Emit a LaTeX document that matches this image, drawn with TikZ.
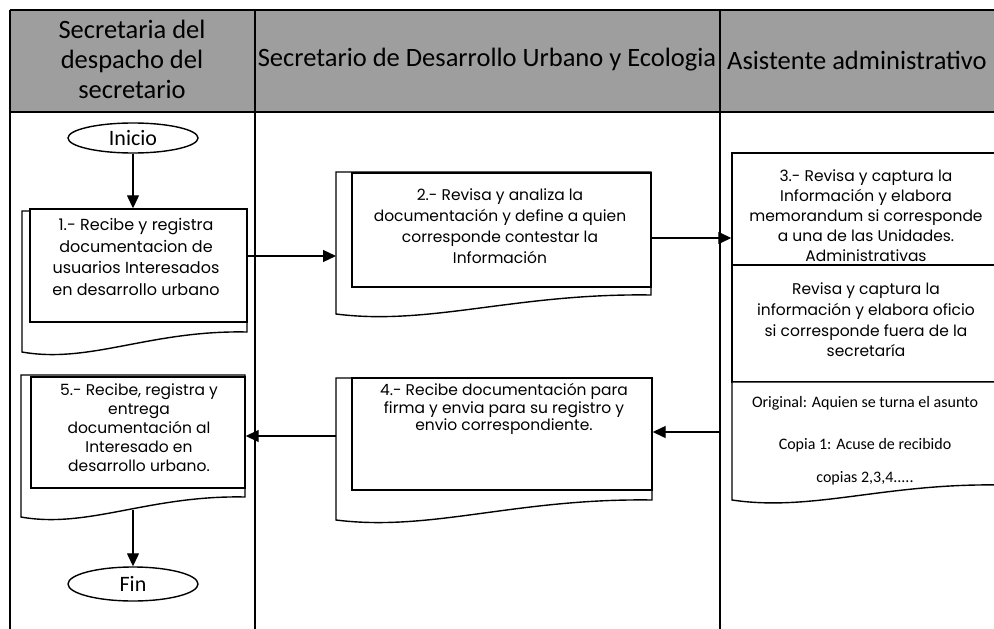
\documentclass[tikz,border=0pt]{standalone}
\usepackage{fontspec}
\setmainfont{Carlito}
\newfontfamily\boxfont{Poppins}
\usetikzlibrary{arrows.meta,shapes.geometric}
\begin{document}
\begin{tikzpicture}[x=1pt,y=-1pt,
  lane/.style={line width=2.5pt},
  doc/.style={draw, line width=1.4pt, fill=white},
  inbox/.style={draw, line width=1.4pt, fill=white, rectangle, inner sep=0pt},
  txt/.style={align=center, font=\boxfont\fontsize{15.5}{20.5}\selectfont, inner sep=0pt},
  note/.style={font=\fontsize{16}{18}\selectfont, inner sep=0pt},
  term/.style={draw, ellipse, line width=1.4pt, minimum width=130pt, inner sep=0pt, font=\fontsize{22}{24}\selectfont},
  hdr/.style={font=\fontsize{26.5}{30}\selectfont, align=center, inner sep=0pt},
  arr/.style={line width=1.3pt, -{Triangle[length=13pt,width=12pt]}}
]
\useasboundingbox (0,0) rectangle (994,629);
% header band
\fill[black!38] (10,10) rectangle (1000,112);
\draw[line width=1.5pt] (10,112) -- (1000,112);
\draw[lane] (10,10) -- (1000,10);
\draw[lane] (10,10) -- (10,629);
\draw[lane] (255,10) -- (255,629);
\draw[lane] (720,10) -- (720,629);
\node[hdr] (h1) at (132,59) {Secretaria del\\despacho del\\secretario};
\node[hdr] (h2) at (487,60) {Secretario de Desarrollo Urbano y Ecologia};
\node[hdr, anchor=west] (h3) at (727,60) {Asistente administrativo};

% terminals
\node[term, minimum height=30pt] (ini) at (133,138) {Inicio};
\node[term, minimum height=34pt] (fin) at (133,584) {Fin};

% box 1
\draw[doc] (22,211) -- (247,211) -- (247,332) .. controls (150,330) and (90,364) .. (22,352) -- cycle;
\node[inbox, minimum width=217pt, minimum height=113pt] (b1) at (138.5,265.5) {};
\node[txt, font=\boxfont\fontsize{16}{21.5}\selectfont] (t1) at (136,257) {1.- Recibe y registra\\documentacion de\\usuarios Interesados\\en desarrollo urbano};

% box 2
\draw[doc] (336,172) -- (651,172) -- (651,295) .. controls (516,293) and (430,326) .. (336,314) -- cycle;
\node[inbox, minimum width=299pt, minimum height=114pt] (b2) at (501.5,230) {};
\node[txt, font=\boxfont\fontsize{15.5}{21}\selectfont] (t2) at (500,226) {2.- Revisa y analiza la\\documentación y define a quien\\corresponde contestar la\\Información};

% box 3
\node[inbox, minimum width=268pt, minimum height=112pt] (b3a) at (866,209) {};
\node[inbox, minimum width=268pt, minimum height=117pt] (b3b) at (866,323.5) {};
\draw[doc] (732,382) -- (1000,382) -- (1000,485) .. controls (885,483) and (812,512) .. (732,500) -- cycle;
\node[txt, font=\boxfont\fontsize{15.5}{20}\selectfont] (t3a) at (866,216) {3.- Revisa y captura la\\Información y elabora\\memorandum si corresponde\\a una de las Unidades.\\Administrativas};
\node[txt, font=\boxfont\fontsize{15.5}{20.7}\selectfont] (t3b) at (866,320) {Revisa y captura la\\información y elabora oficio\\si corresponde fuera de la\\secretaría};
\node[note] (t3c1) at (865,403) {Original: Aquien se turna el asunto};
\node[note] (t3c2) at (865,445) {Copia 1: Acuse de recibido};
\node[note] (t3c3) at (865,478) {copias 2,3,4.....};

% box 4
\draw[doc] (336,378) -- (652,378) -- (652,500) .. controls (516,498) and (431,532) .. (336,520) -- cycle;
\node[inbox, minimum width=300pt, minimum height=112pt] (b4) at (502,434) {};
\node[txt, font=\boxfont\fontsize{15.5}{17.5}\selectfont] (t4) at (504,409) {4.- Recibe documentación para\\firma y envia para su registro y\\envio correspondiente.};

% box 5
\draw[doc] (21,375) -- (245,375) -- (245,497) .. controls (149,495) and (88,529) .. (21,517) -- cycle;
\node[inbox, minimum width=214pt, minimum height=111pt] (b5) at (138,432.5) {};
\node[txt, font=\boxfont\fontsize{15.5}{19}\selectfont] (t5) at (139,428) {5.- Recibe, registra y\\entrega\\documentación al\\Interesado en\\desarrollo urbano.};

% connectors
\coordinate (d2) at (336,256);
\coordinate (s3) at (720,432);
\coordinate (d4) at (336,436);
\coordinate (w5) at (133,510);
\draw[arr] (ini.south) -- (ini.south |- b1.north);
\draw[arr] ([yshift=9.5pt]b1.east) -- (d2);
\draw[arr] ([yshift=-8pt]b2.east) -- ([yshift=-29pt]b3a.west);
\draw[arr] (s3) -- ([yshift=2pt]b4.east);
\draw[arr] (d4) -- ([yshift=-3.5pt]b5.east);
\draw[arr] (w5) -- (fin.north);
\end{tikzpicture}
\end{document}
